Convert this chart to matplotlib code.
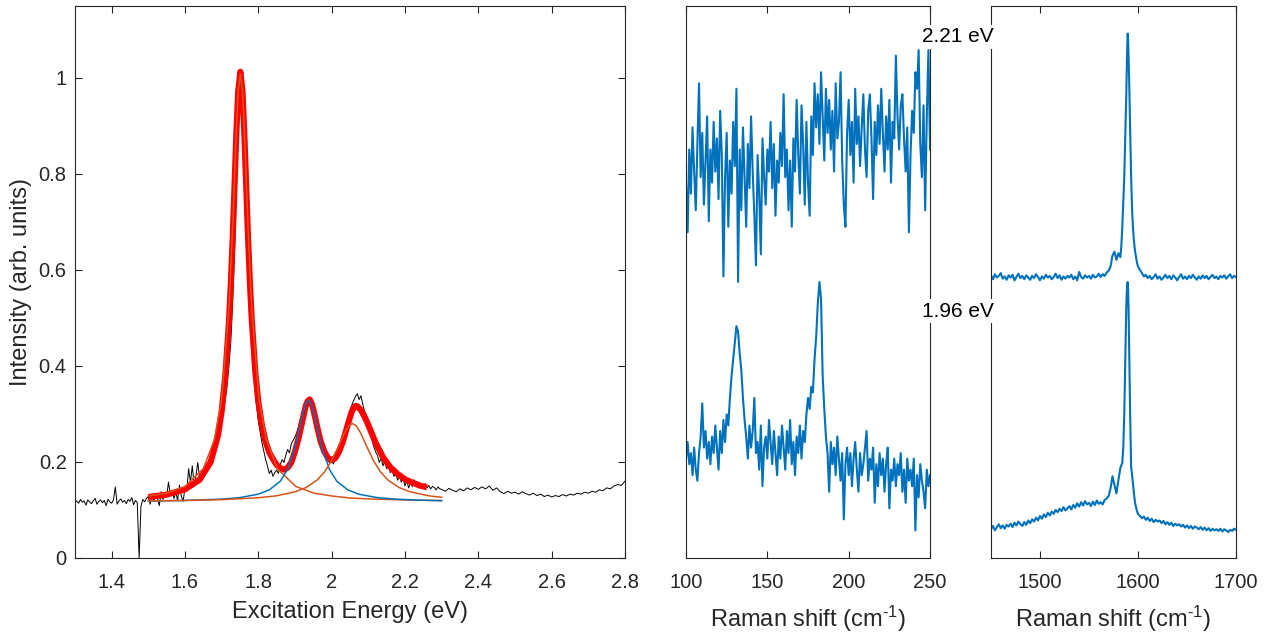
import numpy as np
import matplotlib
matplotlib.use("Agg")
import matplotlib.pyplot as plt

plt.rcParams['font.family'] = ['Liberation Sans', 'DejaVu Sans']
plt.rcParams['mathtext.fontset'] = 'custom'
plt.rcParams['mathtext.rm'] = 'Liberation Sans'
plt.rcParams['mathtext.it'] = 'Liberation Sans:italic'
plt.rcParams['mathtext.default'] = 'regular'

# ---------------- Left panel data: excitation spectrum ----------------
exc_energy = np.concatenate([1.30 + 0.005 * np.arange(200), 2.30 + 0.01 * np.arange(51)])
exc_intensity = [
    0.121, 0.118, 0.114, 0.122, 0.116, 0.119, 0.110, 0.121, 0.117, 0.113,
    0.119, 0.124, 0.112, 0.118, 0.121, 0.115, 0.120, 0.109, 0.122, 0.117,
    0.114, 0.121, 0.148, 0.112, 0.119, 0.123, 0.116, 0.120, 0.113, 0.122,
    0.118, 0.126, 0.111, 0.120, 0.115, 0.000, 0.108, 0.122, 0.117, 0.124,
    0.128, 0.112, 0.131, 0.119, 0.135, 0.125, 0.109, 0.138, 0.122, 0.130,
    0.127, 0.158, 0.133, 0.141, 0.124, 0.137, 0.120, 0.152, 0.129, 0.118,
    0.146, 0.139, 0.186, 0.158, 0.192, 0.150, 0.171, 0.199, 0.166, 0.178,
    0.180, 0.192, 0.186, 0.198, 0.205, 0.212, 0.222, 0.235, 0.245, 0.260,
    0.285, 0.305, 0.330, 0.360, 0.400, 0.450, 0.530, 0.630, 0.760, 0.900,
    1.000, 0.990, 0.930, 0.820, 0.700, 0.580, 0.480, 0.410, 0.360, 0.320,
    0.285, 0.262, 0.240, 0.222, 0.205, 0.192, 0.176, 0.183, 0.170, 0.178,
    0.183, 0.176, 0.195, 0.205, 0.199, 0.214, 0.226, 0.219, 0.238, 0.245,
    0.252, 0.262, 0.275, 0.290, 0.305, 0.318, 0.330, 0.322, 0.335, 0.318,
    0.300, 0.285, 0.262, 0.248, 0.232, 0.222, 0.214, 0.206, 0.202, 0.198,
    0.201, 0.196, 0.208, 0.212, 0.225, 0.232, 0.250, 0.262, 0.280, 0.294,
    0.306, 0.318, 0.328, 0.336, 0.342, 0.330, 0.338, 0.320, 0.305, 0.298,
    0.272, 0.258, 0.246, 0.232, 0.221, 0.214, 0.199, 0.208, 0.192, 0.201,
    0.186, 0.194, 0.178, 0.183, 0.170, 0.176, 0.162, 0.171, 0.158, 0.166,
    0.150, 0.161, 0.146, 0.156, 0.149, 0.163, 0.153, 0.158, 0.147, 0.152,
    0.149, 0.155, 0.146, 0.151, 0.144, 0.149, 0.147, 0.142, 0.148, 0.144,
    0.143, 0.139, 0.145, 0.141, 0.138, 0.144, 0.140, 0.146, 0.142, 0.147,
    0.143, 0.148, 0.144, 0.150, 0.141, 0.146, 0.138, 0.134, 0.139, 0.135,
    0.137, 0.133, 0.138, 0.134, 0.131, 0.135, 0.130, 0.133, 0.128, 0.131,
    0.127, 0.130, 0.128, 0.132, 0.129, 0.133, 0.131, 0.135, 0.133, 0.137,
    0.135, 0.139, 0.137, 0.142, 0.140, 0.146, 0.144, 0.150, 0.153, 0.151, 0.160,
]

# total fit (red)
fit_energy = [
    1.50, 1.55, 1.60, 1.64, 1.67, 1.69, 1.70, 1.71, 1.72, 1.725,
    1.73, 1.735, 1.74, 1.745, 1.751, 1.757, 1.762, 1.767, 1.772, 1.777,
    1.782, 1.792, 1.80, 1.81, 1.82, 1.83, 1.84, 1.85, 1.86, 1.87,
    1.88, 1.89, 1.90, 1.91, 1.92, 1.925, 1.93, 1.935, 1.94, 1.945,
    1.95, 1.955, 1.96, 1.97, 1.98, 1.99, 2.00, 2.01, 2.02, 2.03,
    2.04, 2.05, 2.055, 2.06, 2.066, 2.07, 2.08, 2.09, 2.10, 2.12,
    2.14, 2.16, 2.18, 2.20, 2.22, 2.24, 2.26,
]
fit_intensity = [
    0.127, 0.132, 0.143, 0.163, 0.200, 0.255, 0.305, 0.380, 0.492, 0.570,
    0.664, 0.772, 0.882, 0.970, 1.013, 0.971, 0.882, 0.775, 0.668, 0.575,
    0.498, 0.386, 0.326, 0.276, 0.242, 0.220, 0.206, 0.194, 0.187, 0.184,
    0.188, 0.199, 0.222, 0.250, 0.285, 0.302, 0.318, 0.327, 0.330, 0.323,
    0.310, 0.293, 0.275, 0.243, 0.222, 0.208, 0.204, 0.208, 0.221, 0.241,
    0.267, 0.293, 0.305, 0.313, 0.317, 0.316, 0.308, 0.294, 0.277, 0.240,
    0.210, 0.189, 0.175, 0.164, 0.157, 0.151, 0.147,
]

# fit components
comp1_energy = [1.50, 1.55, 1.60, 1.65, 1.68, 1.70, 1.72, 1.73, 1.74, 1.745, 1.751, 1.757, 1.762,
                1.772, 1.782, 1.802, 1.822, 1.852, 1.902, 1.952, 2.002, 2.05, 2.10, 2.20, 2.30]
comp1_intensity = [0.129, 0.135, 0.149, 0.186, 0.246, 0.330, 0.520, 0.690, 0.890, 0.972, 1.008, 0.972, 0.890,
                   0.690, 0.520, 0.330, 0.246, 0.186, 0.149, 0.135, 0.129, 0.125, 0.123, 0.121, 0.1195]
comp2_energy = [1.50, 1.60, 1.70, 1.75, 1.80, 1.83, 1.86, 1.88, 1.90, 1.91, 1.92, 1.93, 1.937,
                1.944, 1.954, 1.964, 1.974, 1.994, 2.014, 2.044, 2.074, 2.124, 2.174, 2.237, 2.30]
comp2_intensity = [0.1187, 0.1198, 0.1226, 0.1258, 0.1329, 0.1419, 0.160, 0.1846, 0.2286, 0.260, 0.295, 0.322, 0.329,
                   0.322, 0.295, 0.260, 0.2286, 0.1846, 0.160, 0.1419, 0.1329, 0.1258, 0.1226, 0.1205, 0.1194]
comp3_energy = [1.50, 1.60, 1.70, 1.80, 1.85, 1.90, 1.93, 1.96, 1.98, 2.00, 2.02, 2.035, 2.047, 2.057,
                2.067, 2.079, 2.094, 2.114, 2.134, 2.154, 2.184, 2.214, 2.264, 2.30]
comp3_intensity = [0.1189, 0.1198, 0.1215, 0.1254, 0.1296, 0.1378, 0.1467, 0.1621, 0.1786, 0.2027, 0.2351, 0.2607, 0.2756, 0.280,
                   0.2756, 0.2607, 0.2351, 0.2027, 0.1786, 0.1621, 0.1467, 0.1378, 0.1296, 0.1264]

left_xticks = [1.4, 1.6, 1.8, 2.0, 2.2, 2.4, 2.6, 2.8]
left_xticklabels = ['1.4', '1.6', '1.8', '2', '2.2', '2.4', '2.6', '2.8']
left_yticks = [0, 0.2, 0.4, 0.6, 0.8, 1.0]
left_yticklabels = ['0', '0.2', '0.4', '0.6', '0.8', '1']

# ---------------- Middle panel: low-frequency Raman ----------------
raman_low_shift = np.arange(100, 251)
raman_low_221 = [
    0.68, 0.59, 0.74, 0.66, 0.78, 0.70, 0.63, 0.75, 0.86, 0.69,
    0.77, 0.64, 0.72, 0.80, 0.61, 0.74, 0.68, 0.79, 0.70, 0.76,
    0.65, 0.81, 0.73, 0.51, 0.69, 0.77, 0.60, 0.72, 0.66, 0.79,
    0.71, 0.85, 0.50, 0.74, 0.63, 0.78, 0.69, 0.60, 0.75, 0.67,
    0.80, 0.70, 0.62, 0.53, 0.73, 0.66, 0.55, 0.76, 0.69, 0.64,
    0.74, 0.70, 0.79, 0.67, 0.75, 0.62, 0.72, 0.68, 0.77, 0.71,
    0.84, 0.69, 0.74, 0.63, 0.72, 0.60, 0.76, 0.70, 0.83, 0.73,
    0.66, 0.82, 0.75, 0.64, 0.79, 0.68, 0.62, 0.80, 0.73, 0.86,
    0.78, 0.84, 0.75, 0.88, 0.80, 0.72, 0.85, 0.77, 0.83, 0.74,
    0.81, 0.70, 0.86, 0.76, 0.79, 0.88, 0.72, 0.64, 0.60, 0.77,
    0.83, 0.73, 0.79, 0.68, 0.85, 0.75, 0.80, 0.71, 0.78, 0.84,
    0.74, 0.69, 0.81, 0.84, 0.76, 0.65, 0.79, 0.73, 0.82, 0.75,
    0.85, 0.77, 0.70, 0.80, 0.74, 0.83, 0.68, 0.79, 0.76, 0.91,
    0.80, 0.74, 0.82, 0.84, 0.76, 0.70, 0.78, 0.59, 0.73, 0.81,
    0.77, 0.88, 0.85, 0.92, 0.75, 0.69, 0.82, 0.63, 0.80, 0.92,
    0.74,
]
raman_low_196 = [
    0.18, 0.21, 0.17, 0.19, 0.15, 0.20, 0.16, 0.14, 0.19, 0.22,
    0.28, 0.20, 0.23, 0.18, 0.21, 0.17, 0.22, 0.19, 0.24, 0.20,
    0.16, 0.23, 0.19, 0.25, 0.21, 0.26, 0.24, 0.29, 0.33, 0.36,
    0.39, 0.42, 0.41, 0.37, 0.34, 0.29, 0.25, 0.22, 0.18, 0.24,
    0.20, 0.23, 0.29, 0.19, 0.21, 0.16, 0.24, 0.13, 0.20, 0.22,
    0.18, 0.25, 0.21, 0.17, 0.23, 0.19, 0.15, 0.22, 0.18, 0.24,
    0.20, 0.16, 0.23, 0.19, 0.25, 0.17, 0.21, 0.15, 0.22, 0.19,
    0.24, 0.18, 0.23, 0.21, 0.26, 0.29, 0.27, 0.31, 0.30, 0.36,
    0.40, 0.46, 0.50, 0.47, 0.33, 0.27, 0.22, 0.19, 0.12, 0.21,
    0.17, 0.20, 0.15, 0.22, 0.18, 0.14, 0.19, 0.07, 0.17, 0.20,
    0.15, 0.19, 0.13, 0.18, 0.21, 0.16, 0.12, 0.19, 0.15, 0.17,
    0.20, 0.23, 0.14, 0.18, 0.16, 0.20, 0.10, 0.17, 0.13, 0.19,
    0.15, 0.18, 0.12, 0.17, 0.20, 0.09, 0.16, 0.14, 0.18, 0.13,
    0.17, 0.15, 0.19, 0.12, 0.16, 0.10, 0.18, 0.14, 0.16, 0.13,
    0.18, 0.05, 0.15, 0.11, 0.17, 0.14, 0.12, 0.09, 0.16, 0.13,
    0.15,
]
mid_xticks = [100, 150, 200, 250]

# ---------------- Right panel: G band ----------------
raman_g_shift = np.concatenate([
    np.arange(1450, 1569, 2),
    np.arange(1570, 1583, 2),
    [1583, 1584, 1585, 1586, 1587, 1588, 1588.5, 1589, 1589.5, 1590, 1590.5,
     1591, 1592, 1593, 1594, 1595, 1596, 1597, 1598, 1599, 1600],
    np.arange(1602, 1701, 2),
])
raman_g_221 = [
    0.512, 0.505, 0.514, 0.508, 0.511, 0.516, 0.506, 0.510, 0.504, 0.512,
    0.508, 0.513, 0.503, 0.509, 0.515, 0.507, 0.511, 0.505, 0.512, 0.508,
    0.504, 0.511, 0.507, 0.514, 0.509, 0.503, 0.510, 0.506, 0.513, 0.508,
    0.511, 0.505, 0.509, 0.515, 0.507, 0.512, 0.504, 0.510, 0.506, 0.511,
    0.508, 0.513, 0.505, 0.510, 0.503, 0.518, 0.509, 0.506, 0.512, 0.508,
    0.511, 0.506, 0.513, 0.508, 0.510, 0.515, 0.509, 0.514, 0.511, 0.517,
    0.520, 0.528, 0.548, 0.555, 0.540, 0.552, 0.545,
    0.565, 0.600, 0.645, 0.690, 0.760, 0.835, 0.885, 0.925, 0.950, 0.935, 0.900,
    0.865, 0.780, 0.690, 0.630, 0.595, 0.572, 0.556, 0.545, 0.535, 0.528,
    0.522, 0.516, 0.510, 0.513, 0.507, 0.511, 0.505, 0.509, 0.514, 0.506,
    0.510, 0.504, 0.508, 0.513, 0.507, 0.511, 0.505, 0.512, 0.508, 0.503,
    0.509, 0.514, 0.506, 0.510, 0.505, 0.511, 0.507, 0.513, 0.508, 0.504,
    0.510, 0.506, 0.512, 0.507, 0.511, 0.505, 0.509, 0.513, 0.507, 0.510,
    0.505, 0.511, 0.508, 0.512, 0.506, 0.510, 0.514, 0.507, 0.511, 0.509,
]
raman_g_196 = [
    0.052, 0.058, 0.050, 0.056, 0.061, 0.054, 0.059, 0.053, 0.060, 0.057,
    0.062, 0.056, 0.064, 0.059, 0.066, 0.061, 0.058, 0.065, 0.060, 0.068,
    0.063, 0.070, 0.066, 0.073, 0.068, 0.076, 0.071, 0.079, 0.074, 0.082,
    0.077, 0.084, 0.080, 0.087, 0.083, 0.089, 0.085, 0.092, 0.086, 0.090,
    0.094, 0.088, 0.096, 0.091, 0.099, 0.093, 0.101, 0.095, 0.103, 0.097,
    0.100, 0.094, 0.102, 0.096, 0.104, 0.098, 0.101, 0.097, 0.105, 0.108,
    0.112, 0.126, 0.148, 0.132, 0.117, 0.141, 0.163,
    0.168, 0.172, 0.200, 0.260, 0.360, 0.450, 0.480, 0.495, 0.500, 0.485, 0.440,
    0.380, 0.260, 0.165, 0.150, 0.132, 0.115, 0.100, 0.092, 0.085, 0.080,
    0.076, 0.072, 0.075, 0.069, 0.073, 0.067, 0.071, 0.065, 0.069, 0.066,
    0.068, 0.063, 0.067, 0.061, 0.065, 0.060, 0.064, 0.058, 0.062, 0.059,
    0.061, 0.057, 0.060, 0.055, 0.059, 0.054, 0.058, 0.053, 0.057, 0.055,
    0.052, 0.056, 0.051, 0.055, 0.050, 0.054, 0.049, 0.053, 0.050, 0.052,
    0.049, 0.053, 0.048, 0.052, 0.050, 0.047, 0.051, 0.049, 0.053, 0.051,
]
right_xticks = [1500, 1600, 1700]

energy_labels = ['2.21 eV', '1.96 eV']

# ---------------- Drawing ----------------
BLUE = '#0072BD'
ORANGE = '#D95319'
AXC = '#262626'

fig = plt.figure(figsize=(12.77, 6.35), dpi=100)
axL = fig.add_axes([0.0587, 0.1213, 0.4307, 0.8693])
axM = fig.add_axes([0.5372, 0.1213, 0.1911, 0.8693])
axR = fig.add_axes([0.7760, 0.1213, 0.1919, 0.8693])

for ax in (axL, axM, axR):
    for sp in ax.spines.values():
        sp.set_color(AXC)
        sp.set_linewidth(0.8)
    ax.tick_params(direction='in', length=5, width=0.8, color=AXC, labelcolor=AXC,
                   labelsize=14.5, top=True)
    ax.tick_params(axis='x', pad=11)

# left
axL.plot(exc_energy, exc_intensity, color='black', lw=0.7, zorder=2)
axL.plot(fit_energy, fit_intensity, color='#FF0000', lw=4.4, zorder=3,
         solid_joinstyle='round', solid_capstyle='butt')
axL.plot(comp1_energy, comp1_intensity, color=ORANGE, lw=1.1, zorder=4)
axL.plot(comp2_energy, comp2_intensity, color=BLUE, lw=1.1, zorder=4)
axL.plot(comp3_energy, comp3_intensity, color=ORANGE, lw=1.1, zorder=4)
axL.set_xlim(1.3, 2.8)
axL.set_ylim(0, 1.15)
axL.set_xticks(left_xticks)
axL.set_xticklabels(left_xticklabels)
axL.set_yticks(left_yticks)
axL.set_yticklabels(left_yticklabels)
axL.tick_params(axis='y', right=True, pad=6)
axL.set_xlabel('Excitation Energy (eV)', fontsize=17, color=AXC, labelpad=6)
axL.set_ylabel('Intensity (arb. units)', fontsize=17, color=AXC, labelpad=5)

raman_label = 'Raman shift (cm$^{\\text{-}1}$)'

# middle
axM.plot(raman_low_shift, raman_low_221, color=BLUE, lw=1.5)
axM.plot(raman_low_shift, raman_low_196, color=BLUE, lw=1.5)
axM.set_xlim(100, 250)
axM.set_ylim(0, 1)
axM.set_xticks(mid_xticks)
axM.tick_params(axis='y', left=False, right=False, labelleft=False)
axM.set_xlabel(raman_label, fontsize=17, color=AXC, labelpad=8)

# right
axR.plot(raman_g_shift, raman_g_221, color=BLUE, lw=1.5)
axR.plot(raman_g_shift, raman_g_196, color=BLUE, lw=1.5)
axR.set_xlim(1450, 1700)
axR.set_ylim(0, 1)
axR.set_xticks(right_xticks)
axR.tick_params(axis='y', left=False, right=False, labelleft=False)
axR.set_xlabel(raman_label, fontsize=17, color=AXC, labelpad=8)

# energy annotations between the Raman panels
fig.text(958 / 1277, 1 - 37 / 635, energy_labels[0], ha='center', va='center', fontsize=15,
         color='black', bbox=dict(facecolor='white', edgecolor='none', pad=1.5), zorder=10)
fig.text(958 / 1277, 1 - 311 / 635, energy_labels[1], ha='center', va='center', fontsize=15,
         color='black', bbox=dict(facecolor='white', edgecolor='none', pad=1.5), zorder=10)

fig.savefig('out.png', dpi=100)
